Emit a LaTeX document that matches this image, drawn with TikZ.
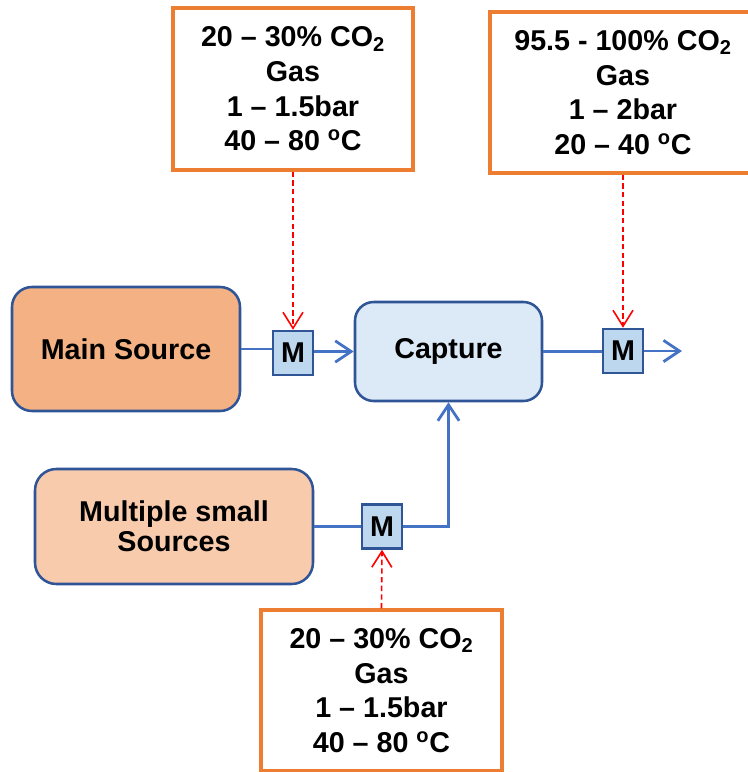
\documentclass[tikz,border=0pt]{standalone}
\usepackage{fontspec}
\setmainfont{Liberation Sans}
\usetikzlibrary{arrows.meta}
\definecolor{boxorange}{HTML}{ED7D31}
\definecolor{mainfill}{HTML}{F4B183}
\definecolor{smallfill}{HTML}{F8CBAD}
\definecolor{frameblue}{HTML}{2F5597}
\definecolor{flowblue}{HTML}{4472C4}
\definecolor{meterblue}{HTML}{BDD7EE}
\definecolor{capturefill}{HTML}{DCE9F7}
\begin{document}
\begin{tikzpicture}[x=0.75pt, y=-0.75pt, font=\bfseries\fontsize{21.5}{26}\selectfont,
  infobox/.style={draw=boxorange, line width=2.5pt, fill=white, align=center, inner sep=0pt},
  source/.style={draw=frameblue, line width=1.9pt, align=center, inner sep=0pt},
  meter/.style={draw=frameblue, line width=1.9pt, fill=meterblue, minimum width=30pt, minimum height=33pt, inner sep=0pt},
  flow/.style={draw=flowblue, line width=2.1pt},
  flowarrow/.style={flow, -{Straight Barb[length=12pt, width=16pt]}},
  feed/.style={draw=red, line width=1.2pt, dash pattern=on 4pt off 2.5pt, -{Straight Barb[length=12pt, width=15pt]}}]
  \useasboundingbox (0,0) rectangle (748,772);
  % condition boxes
  \node[infobox, minimum width=180pt, minimum height=121.5pt] (tl) at (293,89) {20 -- 30\% CO\textsubscript{2}\\Gas\\1 -- 1.5bar\\40 -- 80 \textsuperscript{o}C};
  \node[infobox, minimum width=199.5pt, minimum height=120.75pt] (tr) at (623,92.5) {95.5 - 100\% CO\textsubscript{2}\\Gas\\1 -- 2bar\\20 -- 40 \textsuperscript{o}C};
  \node[infobox, minimum width=180.75pt, minimum height=120.75pt] (bt) at (381.5,690.5) {20 -- 30\% CO\textsubscript{2}\\Gas\\1 -- 1.5bar\\40 -- 80 \textsuperscript{o}C};
  % sources and capture
  \node[source, fill=mainfill, rounded corners=15pt, minimum width=171pt, minimum height=93pt] (main) at (126,349) {Main Source};
  \node[source, fill=smallfill, rounded corners=16pt, minimum width=208.5pt, minimum height=86.25pt, font=\bfseries\fontsize{21.5}{22.5}\selectfont] (small) at (174,526.5) {Multiple small\\Sources};
  \node[source, fill=capturefill, rounded corners=14pt, minimum width=140.25pt, minimum height=74.25pt] (capture) at (448.5,351.5) {Capture};
  % meters
  \node[meter] (m1) at (293,353) {M};
  \node[meter] (m2) at (623,351) {M};
  \node[meter] (m3) at (382,526.5) {M};
  \coordinate (out) at (682,351);
  % flows
  \draw[flow] (main.east) -- (main.east -| m1.west);
  \draw[flowarrow] (m1.east |- capture.west) -- (capture.west);
  \draw[flow] (capture.east) -- (capture.east -| m2.west);
  \draw[flowarrow] (m2.east) -- (out);
  \draw[flow] (small.east) -- (m3.west);
  \draw[flowarrow] (m3.east) -| (capture.south);
  % conditions
  \draw[feed] (tl.south) -- (m1.north);
  \draw[feed] (tr.south) -- (m2.north);
  \draw[feed] (bt.north) -- (m3.south);
\end{tikzpicture}
\end{document}
